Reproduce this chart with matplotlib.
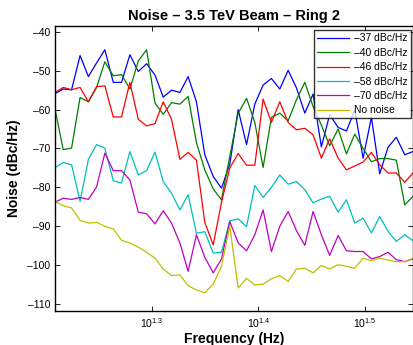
import matplotlib
matplotlib.use("Agg")
import matplotlib.pyplot as plt
from matplotlib.ticker import FixedLocator, FixedFormatter, NullLocator

plt.rcParams['font.family'] = ['Liberation Sans', 'DejaVu Sans']
plt.rcParams['mathtext.default'] = 'regular'

freq = [16.20, 16.49, 16.79, 17.10, 17.41, 17.72, 18.04, 18.37, 18.70, 19.04,
        19.39, 19.74, 20.10, 20.46, 20.83, 21.21, 21.59, 21.98, 22.38, 22.79,
        23.20, 23.62, 24.05, 24.49, 24.93, 25.38, 25.84, 26.31, 26.79, 27.27,
        27.77, 28.27, 28.78, 29.30, 29.84, 30.38, 30.93, 31.49, 32.06, 32.64,
        33.23, 33.83, 34.45, 35.07]

noise_37 = [-55.9, -54.7, -54.9, -46.1, -51.5, -48.0, -44.6, -53.0, -53.0, -45.9,
            -50.2, -48.2, -51.1, -56.8, -55.0, -55.6, -51.5, -58.0, -71.6, -77.2,
            -80.2, -74.0, -60.0, -69.0, -58.6, -53.7, -52.0, -54.7, -49.9, -54.4,
            -60.9, -56.0, -69.6, -61.3, -64.6, -65.5, -60.1, -72.5, -62.0, -76.5,
            -69.7, -67.1, -71.6, -70.8]
noise_40 = [-59.9, -70.3, -69.9, -56.9, -58.0, -54.3, -47.7, -51.3, -51.0, -54.7,
            -47.5, -44.6, -58.3, -61.2, -58.2, -58.6, -56.6, -68.5, -75.5, -80.4,
            -83.2, -72.0, -61.0, -57.1, -63.3, -74.9, -62.0, -60.9, -62.9, -57.5,
            -53.0, -59.2, -64.0, -69.3, -65.0, -71.4, -66.3, -70.0, -73.4, -72.6,
            -72.6, -73.0, -84.5, -82.3]
noise_46 = [-55.6, -54.3, -54.9, -54.3, -58.0, -54.1, -53.9, -61.9, -61.9, -53.0,
            -62.5, -64.2, -63.6, -58.0, -62.5, -72.8, -71.0, -73.0, -89.0, -94.8,
            -83.9, -75.0, -71.3, -74.3, -74.3, -57.3, -63.3, -58.0, -63.3, -65.2,
            -64.8, -66.5, -72.5, -67.5, -72.5, -75.5, -74.5, -73.5, -71.0, -74.2,
            -76.3, -76.3, -78.7, -76.3]
noise_58 = [-74.9, -73.6, -74.2, -83.6, -72.8, -69.0, -69.9, -78.3, -78.9, -70.8,
            -76.8, -75.7, -70.9, -78.5, -81.5, -85.8, -81.9, -91.8, -91.4, -96.9,
            -96.7, -88.6, -88.1, -90.1, -79.5, -82.6, -80.0, -76.8, -79.2, -78.5,
            -80.6, -84.0, -83.0, -82.3, -86.4, -83.2, -89.2, -87.9, -91.7, -87.5,
            -91.3, -93.9, -92.2, -93.7]
noise_70 = [-83.8, -82.8, -83.1, -82.6, -83.1, -79.9, -71.2, -75.7, -75.7, -78.1,
            -86.4, -86.8, -89.4, -86.0, -89.2, -94.3, -101.6, -92.2, -98.0, -102.0,
            -98.4, -88.8, -94.3, -96.3, -92.2, -85.8, -96.5, -90.0, -86.2, -91.1,
            -94.9, -86.2, -92.2, -97.5, -92.4, -96.3, -96.5, -96.5, -98.4, -97.8,
            -96.7, -98.6, -99.1, -98.4]
no_noise = [-83.6, -84.7, -85.3, -88.5, -89.2, -89.0, -90.0, -90.7, -93.6, -94.3,
            -95.4, -96.7, -98.2, -101.0, -102.7, -102.5, -105.3, -106.4, -107.1, -104.9,
            -100.3, -90.0, -105.9, -103.4, -105.1, -104.9, -103.5, -102.7, -104.2, -101.0,
            -100.8, -102.0, -100.1, -101.0, -99.9, -100.3, -100.8, -98.2, -98.9, -98.2,
            -98.7, -99.1, -99.1, -98.2]

series_labels = ['–37 dBc/Hz', '–40 dBc/Hz', '–46 dBc/Hz', '–58 dBc/Hz', '–70 dBc/Hz', 'No noise']
series_values = [noise_37, noise_40, noise_46, noise_58, noise_70, no_noise]
series_colors = ['#0000ff', '#007f00', '#ff0000', '#00bfbf', '#bf00bf', '#bfbf00']

xtick_values = [10 ** 1.3, 10 ** 1.4, 10 ** 1.5]
xtick_labels = ['$10^{1.3}$', '$10^{1.4}$', '$10^{1.5}$']
ytick_values = [-110, -100, -90, -80, -70, -60, -50, -40]
ytick_labels = ['–110', '–100', '–90', '–80', '–70', '–60', '–50', '–40']

fig = plt.figure(figsize=(4.13, 3.45), dpi=100)
ax = fig.add_axes([55 / 413, 34 / 345, 358 / 413, 285 / 345])

for vals, lab, col in zip(series_values, series_labels, series_colors):
    ax.plot(freq, vals, color=col, lw=0.9, label=lab)

ax.set_xscale('log')
ax.set_xlim(freq[0], freq[-1])
ax.set_ylim(-111.8, -38.5)

ax.xaxis.set_major_locator(FixedLocator(xtick_values))
ax.xaxis.set_major_formatter(FixedFormatter(xtick_labels))
ax.xaxis.set_minor_locator(NullLocator())
ax.set_yticks(ytick_values)
ax.set_yticklabels(ytick_labels)

ax.tick_params(axis='both', which='both', direction='in', length=3.5, width=0.6,
               top=True, right=True, labelsize=7.5, colors='black')
ax.tick_params(axis='x', pad=4)
for s in ax.spines.values():
    s.set_linewidth(1.0)

ax.set_title('Noise – 3.5 TeV Beam – Ring 2', fontsize=10.5, fontweight='bold', pad=4)
ax.set_xlabel('Frequency (Hz)', fontsize=10, fontweight='bold', labelpad=1)
ax.set_ylabel('Noise (dBc/Hz)', fontsize=10, fontweight='bold', labelpad=4)

leg = ax.legend(loc='upper right', bbox_to_anchor=(0.994, 0.985), borderaxespad=0,
                fontsize=7.5, frameon=True, fancybox=False, edgecolor='black',
                handlelength=3.1, labelspacing=0.42, handletextpad=0.45,
                borderpad=0.3)
leg.get_frame().set_linewidth(1.0)

fig.savefig('out.png', dpi=100)
